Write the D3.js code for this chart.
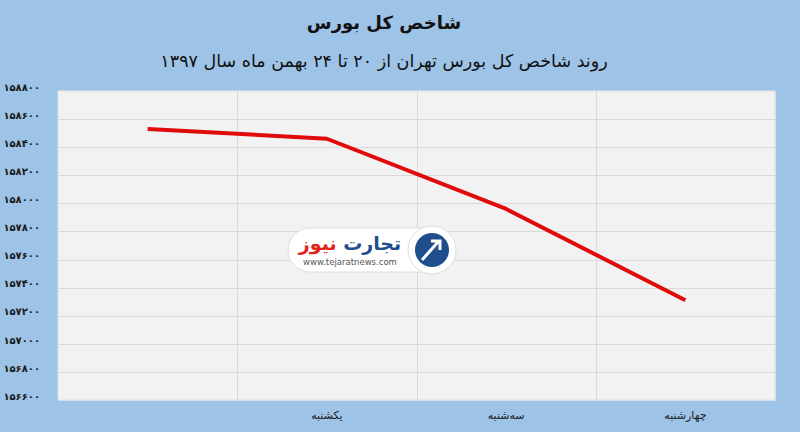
<!DOCTYPE html>
<html><head><meta charset="utf-8">
<script src="https://cdn.jsdelivr.net/npm/d3@7"></script>
<style>html,body{margin:0;padding:0;background:#9dc3e6;}svg{display:block;}</style>
</head><body>
<script>
const categories = ["شنبه", "یکشنبه", "سه‌شنبه", "چهارشنبه"];
const tickLabels = ["", "یکشنبه", "سه‌شنبه", "چهارشنبه"];
const values = [158530, 158460, 157960, 157310];
const yTicks = [156600,156800,157000,157200,157400,157600,157800,158000,158200,158400,158600,158800];
const title = "شاخص کل بورس";
const subtitle = "روند شاخص کل بورس تهران از ۲۰ تا ۲۴ بهمن ماه سال ۱۳۹۷";

const W = 800, H = 432;
const m = {left: 58, right: 25, top: 91, bottom: 32};
const fa = s => String(s).replace(/[0-9]/g, d => "۰۱۲۳۴۵۶۷۸۹"[+d]);

const svg = d3.select("body").append("svg").attr("width", W).attr("height", H);
svg.append("rect").attr("width", W).attr("height", H).attr("fill", "#9dc3e6");

const x = d3.scaleBand().domain(categories).range([m.left, W - m.right]).padding(0);
const y = d3.scaleLinear().domain([156600, 158800]).range([H - m.bottom, m.top]);

// plot area
svg.append("rect").attr("x", m.left + 1).attr("y", m.top + 1)
  .attr("width", W - m.right - m.left).attr("height", H - m.bottom - m.top)
  .attr("fill", "#c9d9e8");
svg.append("rect").attr("x", m.left).attr("y", m.top)
  .attr("width", W - m.right - m.left).attr("height", H - m.bottom - m.top)
  .attr("fill", "#f2f2f2").attr("stroke", "#e3e3e3");

// horizontal grid
svg.append("g").selectAll("line").data(yTicks.slice(1, -1)).join("line")
  .attr("x1", m.left).attr("x2", W - m.right)
  .attr("y1", d => Math.round(y(d)) + 0.5).attr("y2", d => Math.round(y(d)) + 0.5)
  .attr("stroke", "#d9d9d9");
// vertical grid at band boundaries
svg.append("g").selectAll("line").data(categories.slice(1)).join("line")
  .attr("x1", d => Math.round(x(d)) + 0.5).attr("x2", d => Math.round(x(d)) + 0.5)
  .attr("y1", m.top).attr("y2", H - m.bottom)
  .attr("stroke", "#d9d9d9");

// y axis
const yAxis = d3.axisLeft(y).tickValues(yTicks).tickSize(0).tickFormat(d => fa(d));
const gy = svg.append("g").attr("transform", `translate(${m.left - 15},-4)`).call(yAxis);
gy.select(".domain").remove();
gy.selectAll("text").attr("font-family", "DejaVu Sans").attr("font-size", 10)
  .attr("font-weight", "bold").attr("fill", "#1a1a1a");

// x axis
const xAxis = d3.axisBottom(x).tickSize(0).tickFormat((d, i) => tickLabels[i]);
const gx = svg.append("g").attr("transform", `translate(0,${H - m.bottom + 8})`).call(xAxis);
gx.select(".domain").remove();
gx.selectAll("text").attr("font-family", "DejaVu Sans").attr("font-size", 11)
  .attr("fill", "#1a1a1a").attr("direction", "rtl");

// watermark logo
const logo = svg.append("g").attr("transform", "translate(288,228)");
logo.append("rect").attr("x", 0).attr("y", 0).attr("width", 160).attr("height", 44).attr("rx", 22)
  .attr("fill", "#ffffff").attr("stroke", "#dddddd");
logo.append("circle").attr("cx", 144).attr("cy", 22).attr("r", 24).attr("fill", "#ffffff").attr("stroke", "#dddddd");
logo.append("circle").attr("cx", 144).attr("cy", 22).attr("r", 17).attr("fill", "#1f4e8c");
logo.append("path").attr("d", "M134,32 L150,14 M143,13 L152,13 L152,22").attr("stroke", "#ffffff").attr("stroke-width", 3).attr("fill", "none");
const lt = logo.append("text").attr("x", 62).attr("y", 22).attr("text-anchor", "middle")
  .attr("font-family", "DejaVu Sans").attr("font-weight", "bold").attr("font-size", 19).attr("direction", "rtl");
lt.append("tspan").attr("fill", "#1f4e8c").text("تجارت ");
lt.append("tspan").attr("fill", "#e2231a").text("نیوز");
logo.append("text").attr("x", 62).attr("y", 37).attr("text-anchor", "middle")
  .attr("font-family", "DejaVu Sans").attr("font-size", 8.5).attr("fill", "#555").text("www.tejaratnews.com");

// line
const line = d3.line().x((d, i) => x(categories[i]) + x.bandwidth() / 2).y(d => y(d));
svg.append("path").datum(values).attr("d", line)
  .attr("fill", "none").attr("stroke", "#e00b0b").attr("stroke-width", 4).attr("stroke-linejoin", "round");

// titles
svg.append("text").attr("x", 384).attr("y", 29).attr("text-anchor", "middle")
  .attr("font-family", "DejaVu Sans").attr("font-weight", "bold").attr("font-size", 18)
  .attr("fill", "#111").attr("direction", "rtl").text(title);
svg.append("text").attr("x", 384).attr("y", 67).attr("text-anchor", "middle")
  .attr("font-family", "DejaVu Sans").attr("font-size", 17.5)
  .attr("fill", "#111").attr("direction", "rtl").text(subtitle);
</script>
</body></html>
